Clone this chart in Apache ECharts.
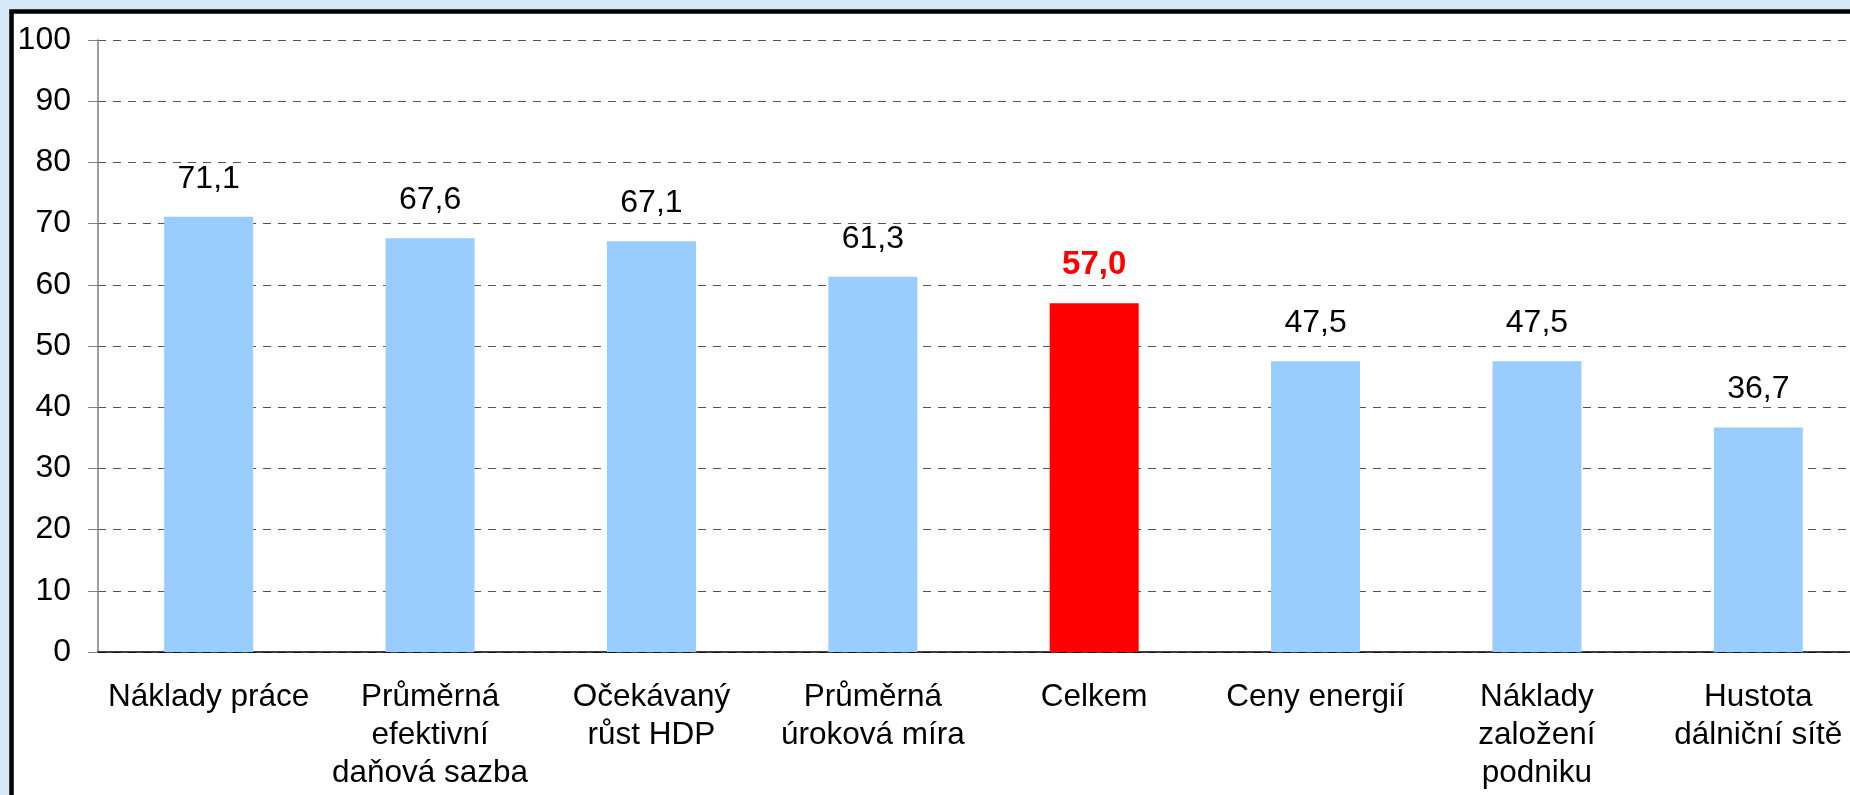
<!DOCTYPE html>
<html>
<head>
<meta charset="utf-8">
<script src="https://cdn.jsdelivr.net/npm/echarts@6/dist/echarts.min.js"></script>
<style>
  html, body { margin: 0; padding: 0; background: #d5e9f6; }
  #chart { width: 1850px; height: 795px; }
</style>
</head>
<body>
<div id="chart"></div>
<script>
// Categories (line breaks as in the original labels)
const categories = [
    'Náklady práce',
    'Průměrná\nefektivní\ndaňová sazba',
    'Očekávaný\nrůst HDP',
    'Průměrná\núroková míra',
    'Celkem',
    'Ceny energií',
    'Náklady\nzaložení\npodniku',
    'Hustota\ndálniční sítě',
];
const values = [71.1, 67.6, 67.1, 61.3, 57.0, 47.5, 47.5, 36.7];
const highlight = 'Celkem';

const FONT = '"Liberation Sans", Arial, sans-serif';
const fmt = v => v.toFixed(1).replace('.', ',');

const chart = echarts.init(document.getElementById('chart'));

chart.setOption({
    backgroundColor: '#d5e9f6',
    animation: false,
    textStyle: { fontFamily: FONT },
    graphic: [{
        type: 'rect',
        z: -10,
        silent: true,
        shape: { x: 11.5, y: 11.5, width: 1900, height: 900 },
        style: { fill: '#ffffff', stroke: '#000000', lineWidth: 4.5 },
    }],
    // the plot runs past the right edge of the picture, as in the original
    grid: { left: 98, top: 40, width: 1771, height: 612, containLabel: false, outerBoundsMode: 'none' },
    xAxis: {
        type: 'category',
        data: categories,
        axisLine: { lineStyle: { color: '#000000', width: 1.5 } },
        axisTick: { length: 9, lineStyle: { color: '#000000' } },
        axisLabel: {
            interval: 0,
            margin: 26,
            color: '#000000',
            fontSize: 31.5,
            lineHeight: 38,
            fontFamily: FONT,
        },
    },
    yAxis: {
        type: 'value',
        min: 0,
        max: 100,
        interval: 10,
        axisLine: { show: true, lineStyle: { color: '#808080', width: 1.5 } },
        axisTick: { show: true, length: 10, lineStyle: { color: '#808080' } },
        axisLabel: { margin: 27, color: '#000000', fontSize: 32, fontFamily: FONT },
        splitLine: {
            lineStyle: { color: '#555555', width: 1.2, type: [8, 7] },
        },
    },
    series: [{
        type: 'bar',
        barWidth: 89,
        data: values.map((v, i) => {
            const hot = categories[i] === highlight;
            return {
                value: v,
                itemStyle: { color: hot ? '#ff0000' : '#99ccff' },
                label: hot ? { color: '#ff0000', fontWeight: 'bold', fontSize: 33 } : undefined,
            };
        }),
        label: {
            show: true,
            position: 'top',
            distance: 22,
            fontSize: 32,
            color: '#000000',
            fontFamily: FONT,
            formatter: p => fmt(p.value),
        },
    }],
});
</script>
</body>
</html>
